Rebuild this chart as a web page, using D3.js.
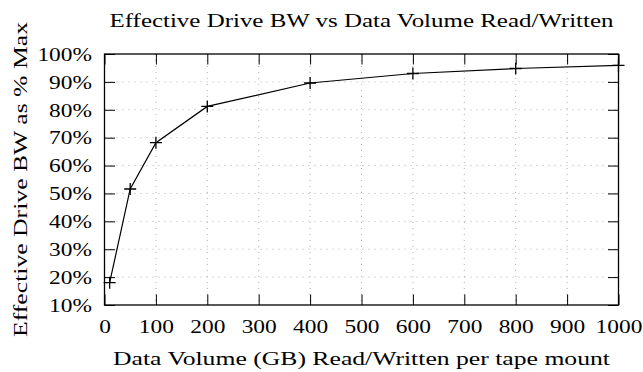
<!DOCTYPE html>
<html>
<head>
<meta charset="utf-8">
<script src="https://cdn.jsdelivr.net/npm/d3@7"></script>
<style>
  body { margin: 0; background: #fff; }
  svg text { font-family: "Liberation Serif", "DejaVu Serif", serif; fill: #000; }
  .grid line { stroke: #999; stroke-width: 0.8; stroke-dasharray: 1 5; }
</style>
</head>
<body>
<svg class="chart" width="643" height="372"></svg>
<script>
const volumes = [10, 50, 100, 200, 400, 600, 800, 1000]
const efficiency = [18, 51.6, 68.2, 81.2, 89.6, 93, 94.8, 95.9]

const xTicks = [0, 100, 200, 300, 400, 500, 600, 700, 800, 900, 1000]
const yTicks = [10, 20, 30, 40, 50, 60, 70, 80, 90, 100]

const chartTitle = "Effective Drive BW vs Data Volume Read/Written"
const xTitle = "Data Volume (GB) Read/Written per tape mount"
const yTitle = "Effective Drive BW as % Max"

const svg = d3.select("svg.chart")

const plotLeft = 104.5, plotRight = 618.5, plotTop = 54, plotBottom = 305
const fontSize = 19.5
const stretch = 1.2

const x = d3.scaleLinear()
    .domain([0, 1000])
    .range([plotLeft, plotRight])

const y = d3.scaleLinear()
    .domain([10, 100])
    .range([plotBottom, plotTop])

// dotted grid
const grid = svg.append("g").attr("class", "grid")

grid.selectAll("line.v")
    .data(xTicks.slice(1, -1))
    .enter()
    .append("line")
    .attr("class", "v")
    .attr("x1", d => x(d))
    .attr("x2", d => x(d))
    .attr("y1", plotTop)
    .attr("y2", plotBottom)

grid.selectAll("line.h")
    .data(yTicks.slice(1, -1))
    .enter()
    .append("line")
    .attr("class", "h")
    .attr("x1", plotLeft)
    .attr("x2", plotRight)
    .attr("y1", d => y(d))
    .attr("y2", d => y(d))

// axes, ticks pointing inward on all four sides
const tickLen = 10.5

svg.append("g")
    .attr("transform", "translate(0," + plotBottom + ")")
    .call(d3.axisBottom(x).tickValues(xTicks).tickSizeInner(-tickLen).tickSizeOuter(0).tickPadding(14).tickFormat(d3.format("d")))
    .call(g => g.select(".domain").remove())

svg.append("g")
    .attr("transform", "translate(0," + plotTop + ")")
    .call(d3.axisTop(x).tickValues(xTicks).tickSizeInner(-tickLen).tickSizeOuter(0).tickFormat(""))
    .call(g => g.select(".domain").remove())

svg.append("g")
    .attr("transform", "translate(" + plotLeft + ",0)")
    .call(d3.axisLeft(y).tickValues(yTicks).tickSizeInner(-tickLen).tickSizeOuter(0).tickPadding(12.5).tickFormat(d => d + "%"))
    .call(g => g.select(".domain").remove())

svg.append("g")
    .attr("transform", "translate(" + plotRight + ",0)")
    .call(d3.axisRight(y).tickValues(yTicks).tickSizeInner(-tickLen).tickSizeOuter(0).tickFormat(""))
    .call(g => g.select(".domain").remove())

svg.selectAll("g").attr("font-family", null).attr("font-size", null)
svg.selectAll(".tick line").attr("stroke", "#000").attr("stroke-width", 1)
svg.selectAll(".tick text")
    .style("font-size", fontSize + "px")
    .each(function () {
        const w = this.getComputedTextLength()
        if (w > 0) d3.select(this).attr("textLength", w * stretch).attr("lengthAdjust", "spacingAndGlyphs")
    })

svg.append("rect")
    .attr("x", plotLeft)
    .attr("y", plotTop)
    .attr("width", plotRight - plotLeft)
    .attr("height", plotBottom - plotTop)
    .attr("fill", "none")
    .attr("stroke", "#000")
    .attr("stroke-width", 1.3)

// series line and + markers
const points = volumes.map((v, i) => [v, efficiency[i]])

svg.append("path")
    .datum(points)
    .attr("fill", "none")
    .attr("stroke", "#000")
    .attr("stroke-width", 1.2)
    .attr("d", d3.line().x(d => x(d[0])).y(d => y(d[1])))

svg.selectAll("path.mark")
    .data(points)
    .enter()
    .append("path")
    .attr("class", "mark")
    .attr("stroke", "#000")
    .attr("stroke-width", 1.3)
    .attr("d", d => {
        const cx = x(d[0]), cy = y(d[1])
        return "M" + (cx - 6) + "," + cy + "H" + (cx + 6) + "M" + cx + "," + (cy - 6) + "V" + (cy + 6)
    })

// titles
svg.append("text")
    .attr("x", (plotLeft + plotRight) / 2)
    .attr("y", 27)
    .attr("text-anchor", "middle")
    .attr("textLength", 504)
    .attr("lengthAdjust", "spacingAndGlyphs")
    .style("font-size", fontSize + "px")
    .text(chartTitle)

svg.append("text")
    .attr("x", (plotLeft + plotRight) / 2)
    .attr("y", 365)
    .attr("text-anchor", "middle")
    .attr("textLength", 497)
    .attr("lengthAdjust", "spacingAndGlyphs")
    .style("font-size", fontSize + "px")
    .text(xTitle)

svg.append("text")
    .attr("transform", "translate(27," + (plotTop + plotBottom) / 2 + ") rotate(-90)")
    .attr("text-anchor", "middle")
    .attr("textLength", 315)
    .attr("lengthAdjust", "spacingAndGlyphs")
    .style("font-size", fontSize + "px")
    .text(yTitle)
</script>
</body>
</html>
